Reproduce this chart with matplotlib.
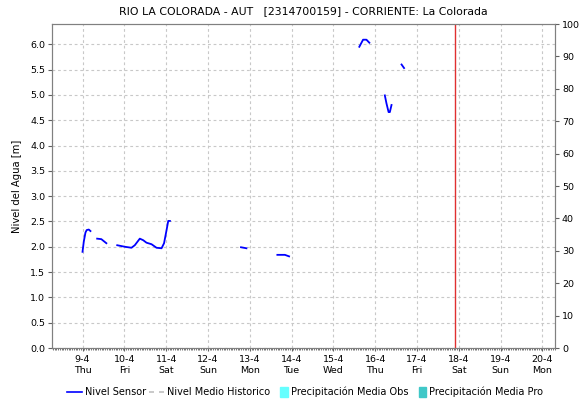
import numpy as np
import matplotlib.pyplot as plt
from matplotlib.lines import Line2D
from matplotlib.patches import Patch, Rectangle
from matplotlib.legend_handler import HandlerPatch
from matplotlib.ticker import MultipleLocator

### Day ticks (x = days since 9-4 00:00)
day_labels = ['9-4\nThu', '10-4\nFri', '11-4\nSat', '12-4\nSun', '13-4\nMon', '14-4\nTue',
              '15-4\nWed', '16-4\nThu', '17-4\nFri', '18-4\nSat', '19-4\nSun', '20-4\nMon']
day_pos = list(range(len(day_labels)))

### Sensor level, broken into the pieces that have readings
seg1_x = [0.00, 0.03, 0.07, 0.10, 0.15, 0.19]
seg1_y = [1.90, 2.10, 2.28, 2.33, 2.34, 2.31]
seg2_x = [0.35, 0.45, 0.57]
seg2_y = [2.16, 2.15, 2.07]
seg3_x = [0.83, 1.01, 1.17, 1.25, 1.37, 1.45, 1.53, 1.65, 1.77, 1.89, 1.95, 2.01, 2.05, 2.09]
seg3_y = [2.03, 2.00, 1.98, 2.03, 2.16, 2.13, 2.08, 2.05, 1.98, 1.97, 2.07, 2.33, 2.51, 2.51]
seg4_x = [3.79, 3.92]
seg4_y = [1.99, 1.97]
seg5_x = [4.66, 4.84, 4.94]
seg5_y = [1.84, 1.84, 1.81]
seg6_x = [6.62, 6.71, 6.79, 6.86]
seg6_y = [5.95, 6.09, 6.09, 6.03]
seg7_x = [7.23, 7.27, 7.32, 7.35, 7.39]
seg7_y = [4.99, 4.83, 4.66, 4.66, 4.80]
seg8_x = [7.63, 7.69]
seg8_y = [5.60, 5.53]

segments = [(seg1_x, seg1_y), (seg2_x, seg2_y), (seg3_x, seg3_y), (seg4_x, seg4_y),
            (seg5_x, seg5_y), (seg6_x, seg6_y), (seg7_x, seg7_y), (seg8_x, seg8_y)]

now_x = 8.9   # current time marker

plt.rcParams['font.family'] = 'DejaVu Sans'
plt.rcParams['font.size'] = 7

fig = plt.figure(figsize=(5.85, 4.01), dpi=100)
ax = fig.add_axes([52/585, 1 - 348/401, 503/585, 324/401])

for sx, sy in segments:
    ax.plot(sx, sy, color='#0000ff', lw=1.3)

ax.axvline(now_x, color='#e03030', lw=1.0)

ax.set_xlim(-0.73, 11.3)
ax.set_ylim(0, 6.4)
ax.set_xticks(day_pos)
ax.set_xticklabels(day_labels, fontsize=6.8, linespacing=1.3)
ax.xaxis.set_minor_locator(MultipleLocator(1/24))
ax.set_yticks(np.arange(0, 6.01, 0.5))
ax.set_yticklabels(['%.1f' % v for v in np.arange(0, 6.01, 0.5)], fontsize=6.8)
ax.set_ylabel('Nivel del Agua [m]', fontsize=7.2, labelpad=6)
ax.grid(True, color='#c8c8c8', linestyle=(0, (2.5, 2.5)), lw=0.8)
ax.tick_params(axis='y', which='major', length=3, color='#606060', pad=2)
ax.tick_params(axis='x', which='major', length=2, color='#606060', pad=3)
ax.tick_params(axis='x', which='minor', length=1.5, width=0.6, color='#606060')
for s in ax.spines.values():
    s.set_color('#808080')

ax2 = ax.twinx()
ax2.set_ylim(0, 100)
ax2.set_yticks(np.arange(0, 101, 10))
ax2.tick_params(axis='y', length=3, color='#606060', labelsize=6.8, pad=2)
ax2.set_ylabel('Precipitación [mm]', fontsize=7.2, color='#c8c8c8')
ax2.yaxis.set_label_coords(1.075, 0.5)
for s in ax2.spines.values():
    s.set_color('#808080')

ax.set_title('RIO LA COLORADA - AUT   [2314700159] - CORRIENTE: La Colorada', fontsize=7.8, pad=7)


### narrow colour box at the right end of the legend handle slot
def narrow_box(legend, orig_handle, xdescent, ydescent, width, height, fontsize):
    w = 5.5
    return Rectangle((width - w - xdescent, -ydescent - 1), w, height + 2)


handles = [Line2D([], [], color='#0000ff', lw=1.2),
           Line2D([], [], color='#c0c0c0', lw=1.2, linestyle=(0, (3, 3))),
           Patch(color='#66ffff'),
           Patch(color='#40c8c8')]
labels = ['Nivel Sensor', 'Nivel Medio Historico', 'Precipitación Media Obs', 'Precipitación Media Pro']
fig.legend(handles, labels, loc='center', bbox_to_anchor=(0.522, 0.022), ncol=4, frameon=False,
           fontsize=7.0, handlelength=1.5, handletextpad=0.3, columnspacing=0.35,
           borderaxespad=0, handler_map={Patch: HandlerPatch(patch_func=narrow_box)})

fig.savefig('out.png', dpi=100)
